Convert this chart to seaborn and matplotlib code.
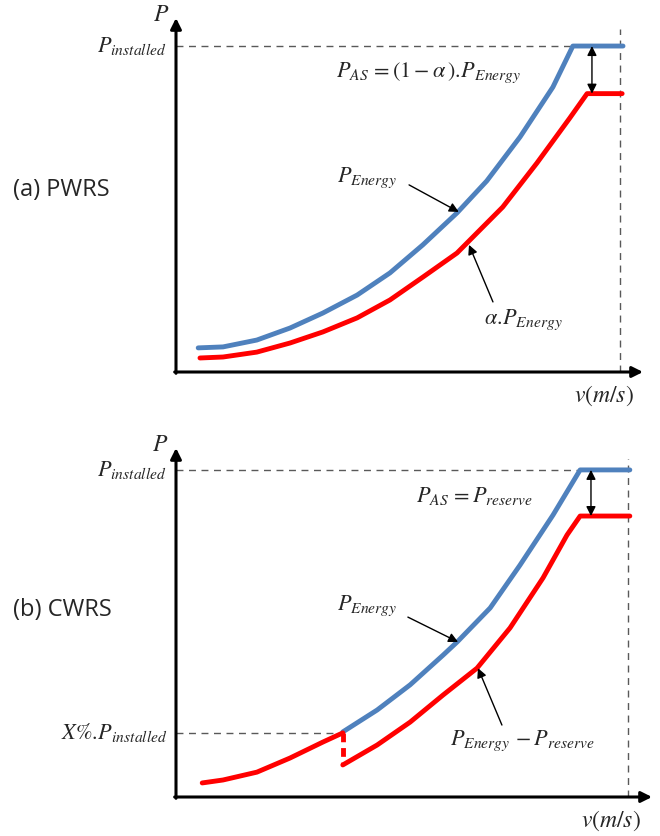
import numpy as np
import pandas as pd
import matplotlib
matplotlib.use("Agg")
import matplotlib.pyplot as plt
import seaborn as sns

# ---- (a) PWRS curves (v: cut-out speed = 10, P: P_installed = 10)
v_energy_a = [0.50, 1.06, 1.82, 2.57, 3.31, 4.08, 4.82, 5.56, 6.33, 7.00,
              7.75, 8.49, 8.94, 10.07]
p_energy_a = [0.74, 0.77, 0.98, 1.35, 1.81, 2.36, 3.04, 3.90, 4.88, 5.86,
              7.21, 8.74, 10.0, 10.0]
v_alpha_a = [0.54, 1.06, 1.82, 2.57, 3.31, 4.08, 4.82, 5.56, 6.33, 7.36,
             8.13, 8.87, 9.26, 10.05]
p_alpha_a = [0.43, 0.46, 0.61, 0.89, 1.23, 1.66, 2.21, 2.91, 3.65, 5.06,
             6.41, 7.79, 8.54, 8.54]

# ---- (b) CWRS curves
v_energy_b = [3.69, 4.45, 5.18, 5.91, 6.22, 6.95, 7.61, 8.34, 8.94, 10.04]
p_energy_b = [1.99, 2.66, 3.43, 4.34, 4.74, 5.78, 7.09, 8.62, 10.0, 10.0]
v_low_b = [0.58, 1.04, 1.79, 2.52, 3.25, 3.69]
p_low_b = [0.43, 0.52, 0.76, 1.19, 1.68, 1.96]
v_step_b = [3.69, 3.69]
p_step_b = [1.96, 0.98]
v_reserve_b = [3.69, 4.45, 5.18, 5.91, 6.66, 7.39, 8.12, 8.65, 8.94, 10.04]
p_reserve_b = [0.98, 1.59, 2.29, 3.12, 3.94, 5.17, 6.70, 8.01, 8.59, 8.59]

p_installed = 10.0
x_percent = 1.96
v_cut = 10.0

BLUE = "#4F81BD"
RED = "#FF0000"
GREY = "#595959"

sns.set_style("white")
plt.rcParams["mathtext.fontset"] = "stix"
plt.rcParams["font.family"] = ["Open Sans", "DejaVu Sans"]

fig = plt.figure(figsize=(6.6, 8.36), dpi=100)
W, H = 660, 836

# axes placed so data units map onto the picture
ax_a = fig.add_axes([176 / W, (H - 372) / H, (643 - 176) / W, (372 - 18) / H])
ax_a.set_xlim(0, 10.52)
ax_a.set_ylim(0, 10.86)
ax_b = fig.add_axes([176 / W, (H - 797) / H, (652 - 176) / W, (797 - 448) / H])
ax_b.set_xlim(0, 10.53)
ax_b.set_ylim(0, 10.67)


def draw_frame(ax):
    ax.axis("off")
    xmax = ax.get_xlim()[1]
    ymax = ax.get_ylim()[1]
    arrow = dict(arrowstyle="-|>", color="black", lw=2.2, mutation_scale=16,
                 shrinkA=0, shrinkB=0)
    ax.annotate("", xy=(xmax, 0), xytext=(-0.03, 0), arrowprops=arrow,
                annotation_clip=False)
    ax.annotate("", xy=(0, ymax), xytext=(0, -0.04), arrowprops=arrow,
                annotation_clip=False)
    ax.plot([0, v_cut], [p_installed, p_installed], color=GREY, lw=1,
            dashes=(5, 4), clip_on=False)
    ax.plot([v_cut, v_cut], [0, ymax - 0.35], color=GREY, lw=1,
            dashes=(5, 4), clip_on=False)
    ax.text(-0.34, ymax + 0.1, "$P$", fontsize=17, ha="center", va="center")
    ax.text(-0.2, p_installed, "$P_{installed}$", fontsize=16, ha="right",
            va="center")
    ax.text(9.63, -0.72, "$v(m/s)$", fontsize=17, ha="center", va="center")


def pointer(ax, start, end):
    ax.annotate("", xy=end, xytext=start,
                arrowprops=dict(arrowstyle="-|>", color="black", lw=1,
                                mutation_scale=14, shrinkA=0, shrinkB=0))


def double_arrow(ax, v, p_top, p_bot):
    ax.annotate("", xy=(v, p_bot), xytext=(v, p_top),
                arrowprops=dict(arrowstyle="<|-|>", color="black", lw=1,
                                mutation_scale=14, shrinkA=0, shrinkB=0))


lw = 3.5

# ---- panel (a)
draw_frame(ax_a)
sns.lineplot(x=v_energy_a, y=p_energy_a, ax=ax_a, color=BLUE, lw=lw,
             estimator=None, sort=False, clip_on=False)
sns.lineplot(x=v_alpha_a, y=p_alpha_a, ax=ax_a, color=RED, lw=lw,
             estimator=None, sort=False, clip_on=False)
double_arrow(ax_a, 9.37, p_installed, 8.54)
ax_a.text(5.68, 9.17, r"$P_{AS}\,=(1-\alpha\,).\!P_{Energy}$", fontsize=16,
          ha="center", va="center")
ax_a.text(4.3, 5.95, "$P_{Energy}$", fontsize=16, ha="center", va="center")
pointer(ax_a, (5.25, 5.74), (6.37, 4.91))
ax_a.text(7.82, 1.6, r"$\alpha.\!P_{Energy}$", fontsize=16, ha="center",
          va="center")
pointer(ax_a, (7.14, 2.15), (6.6, 3.9))
ax_a.text(-3.67, 5.58, "(a) PWRS", fontsize=17, ha="left", va="center")

# ---- panel (b)
draw_frame(ax_b)
ax_b.plot([0, v_low_b[-1]], [x_percent, x_percent], color=GREY, lw=1,
          dashes=(5, 4), clip_on=False)
sns.lineplot(x=v_energy_b, y=p_energy_b, ax=ax_b, color=BLUE, lw=lw,
             estimator=None, sort=False, clip_on=False)
sns.lineplot(x=v_low_b, y=p_low_b, ax=ax_b, color=RED, lw=lw,
             estimator=None, sort=False, clip_on=False)
sns.lineplot(x=v_reserve_b, y=p_reserve_b, ax=ax_b, color=RED, lw=lw,
             estimator=None, sort=False, clip_on=False)
ax_b.plot(v_step_b, p_step_b, color=RED, lw=lw, dashes=(1.8, 1.2),
          solid_capstyle="butt")
double_arrow(ax_b, 9.18, p_installed, 8.59)
ax_b.text(6.61, 9.2, r"$P_{AS}\,=P_{reserve}$", fontsize=16, ha="center",
          va="center")
ax_b.text(4.23, 5.84, "$P_{Energy}$", fontsize=16, ha="center", va="center")
pointer(ax_b, (5.13, 5.5), (6.24, 4.74))
ax_b.text(7.66, 1.71, r"$P_{Energy}\,-P_{reserve}$", fontsize=16, ha="center",
          va="center")
pointer(ax_b, (7.21, 2.2), (6.68, 3.94))
ax_b.text(-0.18, x_percent, r"$X\%.\!P_{installed}$", fontsize=16, ha="right",
          va="center")
ax_b.text(-3.6, 5.72, "(b) CWRS", fontsize=17, ha="left", va="center")

fig.savefig("out.png", dpi=100)
